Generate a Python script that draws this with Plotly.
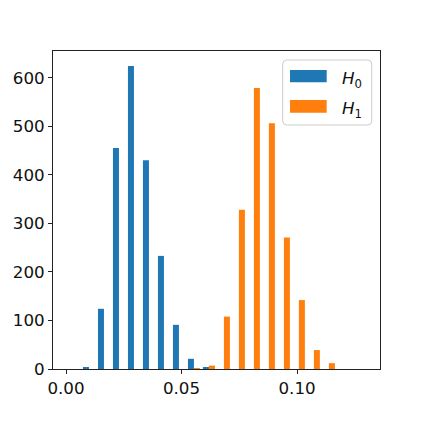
import numpy as np
import plotly.graph_objects as go

# ---- data (20 shared bins) ----
bin_start = 0.0002
bin_stop = 0.1300
n_bins = 20
h0_counts = [0, 4, 124, 455, 624, 430, 233, 91, 21, 4, 0, 0, 0, 0, 0, 0, 0, 0, 0, 0]
h1_counts = [0, 0, 0, 0, 0, 0, 0, 0, 2, 7, 108, 328, 579, 506, 271, 142, 39, 12, 0, 0]
series_names = ["<i>H</i><sub>0</sub>", "<i>H</i><sub>1</sub>"]
colors = ["#1f77b4", "#ff7f0e"]
x_ticks = [0.0, 0.05, 0.10]
x_tick_labels = ["0.00", "0.05", "0.10"]
y_ticks = [0, 100, 200, 300, 400, 500, 600]

edges = np.linspace(bin_start, bin_stop, n_bins + 1)
centers = (edges[:-1] + edges[1:]) / 2
width = edges[1] - edges[0]

FS = 16.7

fig = go.Figure()
for counts, name, col in zip([h0_counts, h1_counts], series_names, colors):
    fig.add_trace(go.Bar(x=centers, y=counts, name=name, marker_color=col,
                         marker_line_width=0, width=width * 0.4, showlegend=False))

fig.update_layout(
    width=423, height=423,
    margin=dict(l=53, r=43, t=51, b=54),
    plot_bgcolor="white", paper_bgcolor="white",
    barmode="group", bargap=0.2, bargroupgap=0,
    font=dict(family="DejaVu Sans", size=FS, color="#111"),
)
axis_common = dict(showline=True, linecolor="#222", linewidth=1, mirror=True,
                   ticks="outside", ticklen=4, tickcolor="#222", tickwidth=1,
                   showgrid=False, zeroline=False,
                   tickfont=dict(family="DejaVu Sans", size=FS, color="#111"))
fig.update_xaxes(range=[-0.00563, 0.1359], tickvals=x_ticks, ticktext=x_tick_labels, **axis_common)
fig.update_yaxes(range=[0, 655], tickvals=y_ticks, **axis_common)

# ---- matplotlib-style legend drawn with shapes ----
def rounded(x0, y0, x1, y1, rx, ry):
    return (f"M{x0+rx},{y0} L{x1-rx},{y0} Q{x1},{y0} {x1},{y0+ry} L{x1},{y1-ry} "
            f"Q{x1},{y1} {x1-rx},{y1} L{x0+rx},{y1} Q{x0},{y1} {x0},{y1-ry} "
            f"L{x0},{y0+ry} Q{x0},{y0} {x0+rx},{y0} Z")

fig.add_shape(type="path", xref="paper", yref="paper",
              path=rounded(0.7024, 0.7673, 0.9746, 0.9717, 4/327, 4/318),
              fillcolor="rgba(255,255,255,0.8)", line=dict(color="#cccccc", width=1))
patch_y = [(0.9016, 0.9403), (0.8060, 0.8459)]
for (y0, y1), name, col in zip(patch_y, series_names, colors):
    fig.add_shape(type="rect", xref="paper", yref="paper",
                  x0=0.7248, x1=0.8370, y0=y0, y1=y1, fillcolor=col, line_width=0)
    fig.add_annotation(xref="paper", yref="paper", x=0.8790, y=(y0 + y1) / 2 - 0.010,
                       xanchor="left", yanchor="middle", showarrow=False,
                       text=name, font=dict(family="DejaVu Sans", size=FS, color="#111"))

fig.write_html("out.html", config={"displayModeBar": False},
               post_script="document.body.style.margin='0px';")
